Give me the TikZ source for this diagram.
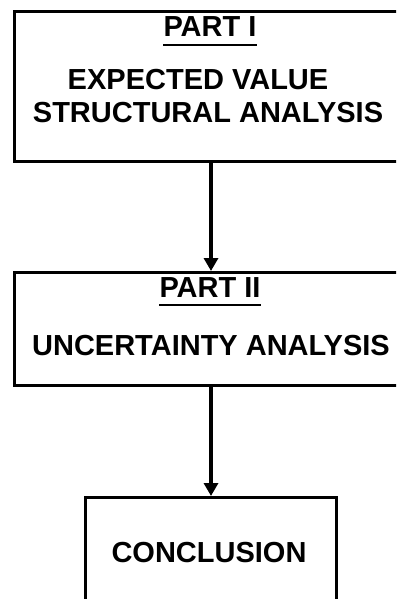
\documentclass[tikz,border=0pt]{standalone}
\usepackage{fontspec}
\setmainfont{Liberation Sans}
\usetikzlibrary{arrows.meta}
\begin{document}
\begin{tikzpicture}[x=1pt,y=-1pt,
  boxstyle/.style={draw,line width=2.6pt,rectangle,anchor=north west,inner sep=0pt},
  txt/.style={font=\fontsize{29}{33}\bfseries\selectfont,anchor=base,inner sep=0pt},
  flow/.style={line width=4.5pt,-{Triangle[length=13pt,width=14pt]}},
  ul/.style={line width=2.2pt}]
\useasboundingbox (0,0) rectangle (396,599);
\clip (0,0) rectangle (396,599);
\node[boxstyle,minimum width=400pt,minimum height=150pt] (b1) at (13,10) {};
\node[boxstyle,minimum width=400pt,minimum height=113pt] (b2) at (13,271) {};
\node[boxstyle,minimum width=251pt,minimum height=120pt] (b3) at (84,496) {};
\coordinate (ax) at (211,0);
\node[txt] (p1) at (210,37) {PART I};
\draw[ul] ([yshift=-8pt]p1.base west) -- ([yshift=-8pt]p1.base east);
\node[txt] (t1) at (198,90) {EXPECTED VALUE};
\node[txt] (t2) at (208,123) {STRUCTURAL ANALYSIS};
\node[txt] (p2) at (210,297) {PART II};
\draw[ul] ([yshift=-8pt]p2.base west) -- ([yshift=-8pt]p2.base east);
\node[txt] (t3) at (211,355) {UNCERTAINTY ANALYSIS};
\node[txt] (t4) at (209,562) {CONCLUSION};
\draw[flow] (b1.south -| ax) -- (b2.north -| ax);
\draw[flow] (b2.south -| ax) -- (b3.north -| ax);
\end{tikzpicture}
\end{document}
